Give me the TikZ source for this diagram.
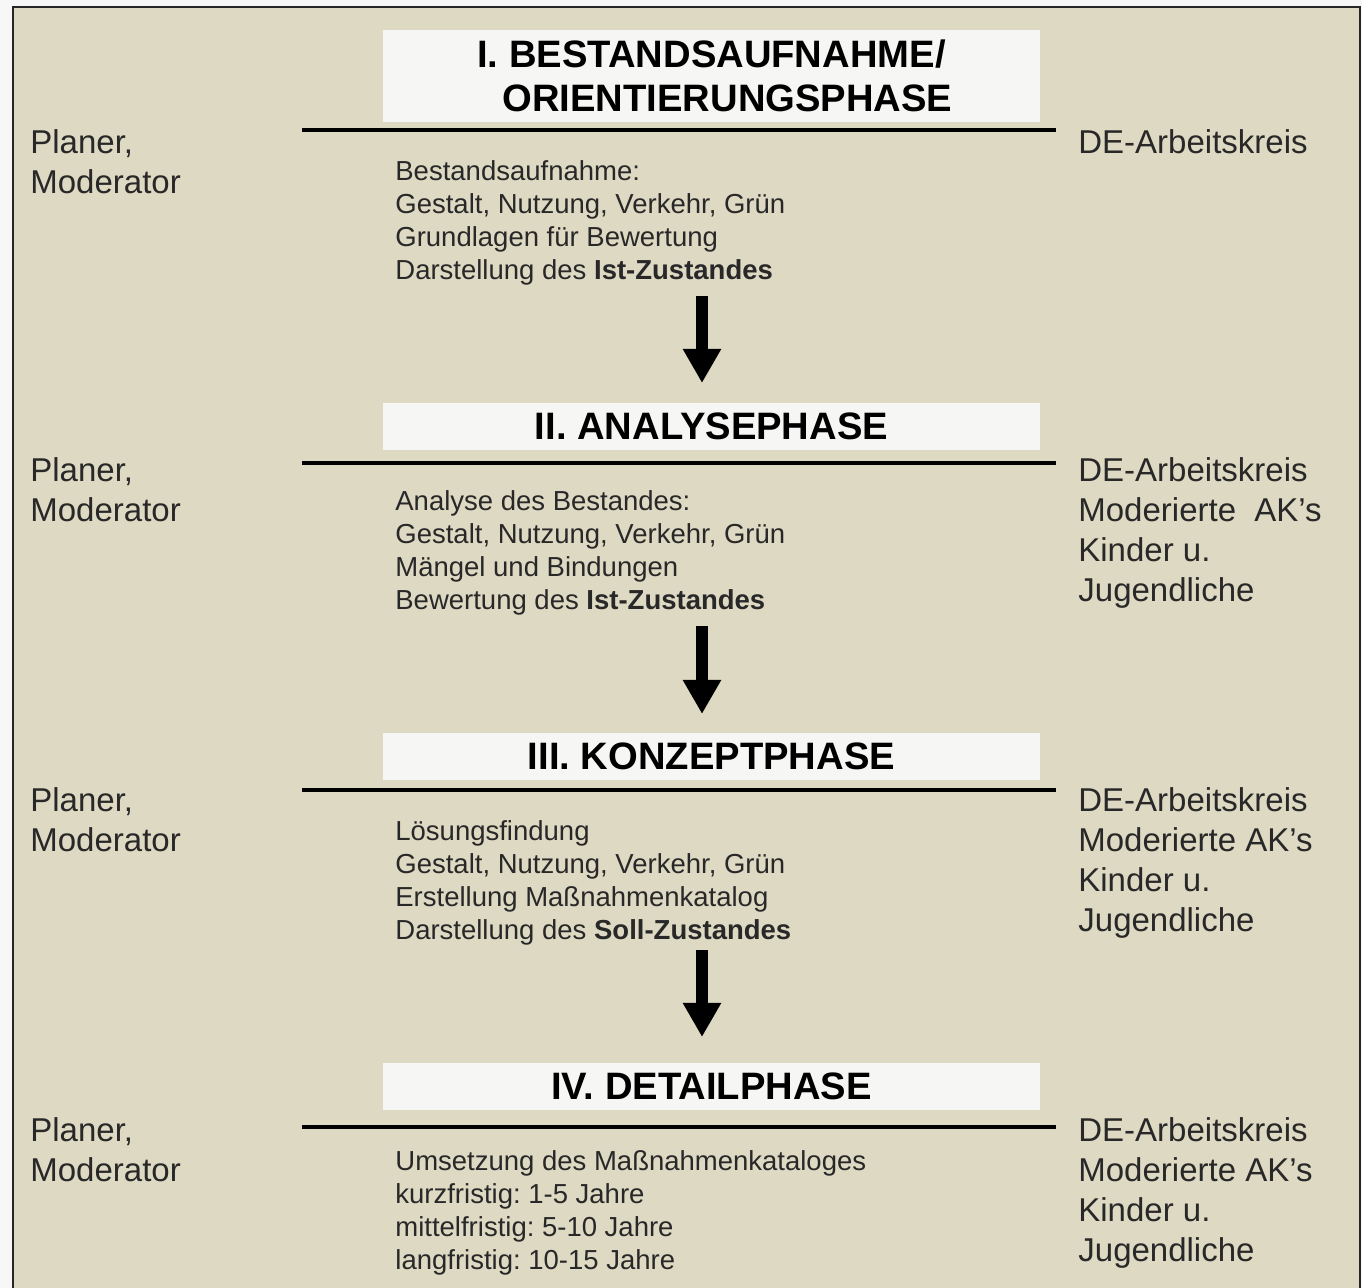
\documentclass[tikz,border=0pt]{standalone}
\usepackage{fontspec}
\setmainfont{Liberation Sans}
\usepackage{xcolor}
\usetikzlibrary{arrows.meta}
\definecolor{paper}{RGB}{222,217,195}
\definecolor{outside}{RGB}{246,247,246}
\definecolor{titlebg}{RGB}{246,246,244}
\definecolor{ink}{RGB}{40,40,40}
\frenchspacing

\begin{document}
\begin{tikzpicture}[x=0.5pt,y=-0.5pt]
  \tikzstyle{every node}=[inner sep=0pt, text=ink]
  \tikzstyle{phasebox}=[fill=titlebg, minimum width=328.5pt, minimum height=23.5pt, text=black, align=center, font=\bfseries\fontsize{19.1}{22}\selectfont]
  \tikzstyle{body}=[anchor=north west, align=left, font=\fontsize{13.75}{16.5}\selectfont]
  \tikzstyle{side}=[anchor=north west, align=left, font=\fontsize{16.5}{20}\selectfont]
  \tikzstyle{rule}=[line width=2pt]
  \tikzstyle{flow}=[line width=6pt, -{Triangle[width=18pt,length=17pt]}]

  \clip (0,0) rectangle (1362,1288);
  \fill[outside] (0,0) rectangle (1362,1288);
  \filldraw[fill=paper, draw=black!85, line width=1pt] (13,7) rectangle (1360,1310);

  % phase I
  \node[phasebox, minimum height=46pt] (phase1) at (711.5,76) {I. BESTANDSAUFNAHME/\\\hspace*{16pt}ORIENTIERUNGSPHASE};
  \draw[rule] (302,130) -- (1056,130);
  \node[side] (who1) at (30,129) {Planer,\\Moderator};
  \node[side] (group1) at (1078,129) {DE-Arbeitskreis};
  \node[body] (body1) at (395,160) {Bestandsaufnahme:\\Gestalt, Nutzung, Verkehr, Grün\\Grundlagen für Bewertung\\Darstellung des \textbf{Ist-Zustandes}};

  % phase II
  \node[phasebox] (phase2) at (711.5,426.5) {II. ANALYSEPHASE};
  \draw[rule] (302,463) -- (1056,463);
  \node[side] (who2) at (30,457) {Planer,\\Moderator};
  \node[side] (group2) at (1078,457) {DE-Arbeitskreis\\Moderierte\ \ AK’s\\Kinder u.\\Jugendliche};
  \node[body] (body2) at (395,490) {Analyse des Bestandes:\\Gestalt, Nutzung, Verkehr, Grün\\Mängel und Bindungen\\Bewertung des \textbf{Ist-Zustandes}};

  % phase III
  \node[phasebox] (phase3) at (711.5,756.5) {III. KONZEPTPHASE};
  \draw[rule] (302,790) -- (1056,790);
  \node[side] (who3) at (30,787) {Planer,\\Moderator};
  \node[side] (group3) at (1078,787) {DE-Arbeitskreis\\Moderierte AK’s\\Kinder u.\\Jugendliche};
  \node[body] (body3) at (395,820) {Lösungsfindung\\Gestalt, Nutzung, Verkehr, Grün\\Erstellung Maßnahmenkatalog\\Darstellung des \textbf{Soll-Zustandes}};

  % phase IV
  \node[phasebox] (phase4) at (711.5,1086.5) {IV. DETAILPHASE};
  \draw[rule] (302,1127) -- (1056,1127);
  \node[side] (who4) at (30,1117) {Planer,\\Moderator};
  \node[side] (group4) at (1078,1117) {DE-Arbeitskreis\\Moderierte AK’s\\Kinder u.\\Jugendliche};
  \node[body] (body4) at (395,1150) {Umsetzung des Maßnahmenkataloges\\kurzfristig: 1-5 Jahre\\mittelfristig: 5-10 Jahre\\langfristig: 10-15 Jahre};

  % arrows between phases
  \coordinate (from1) at (702,296);
  \coordinate (to2) at (702,383);
  \coordinate (from2) at (702,626);
  \coordinate (to3) at (702,714);
  \coordinate (from3) at (702,950);
  \coordinate (to4) at (702,1037);
  \draw[flow] (from1) -- (to2);
  \draw[flow] (from2) -- (to3);
  \draw[flow] (from3) -- (to4);
\end{tikzpicture}
\end{document}
